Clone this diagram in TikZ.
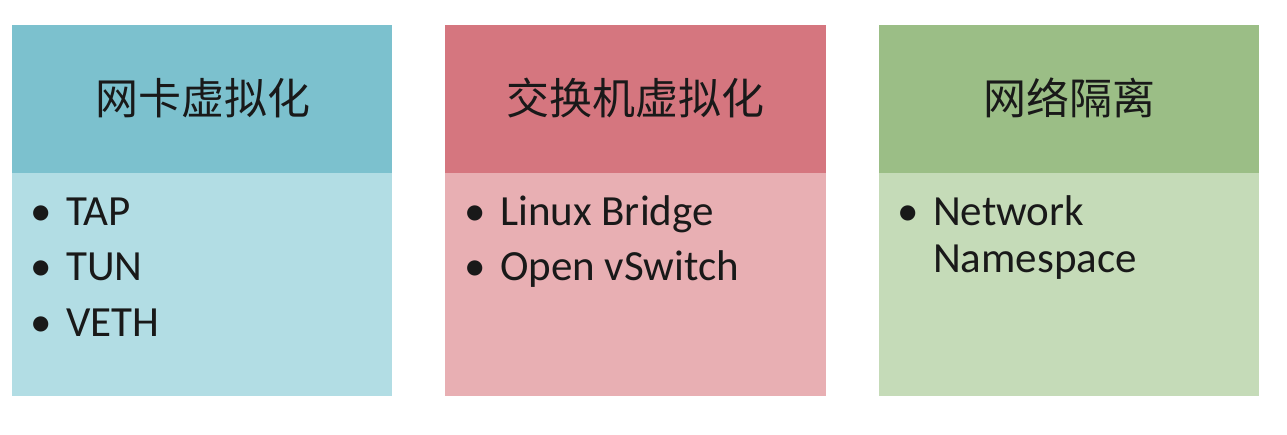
\documentclass[tikz,border=0pt]{standalone}
\usepackage{fontspec}
\setmainfont{Carlito}
\newfontfamily\cjk{Noto Sans CJK SC}
\definecolor{bluehead}{HTML}{7CC1CE}
\definecolor{bluebody}{HTML}{B2DDE4}
\definecolor{pinkhead}{HTML}{D5767F}
\definecolor{pinkbody}{HTML}{E8AFB3}
\definecolor{greenhead}{HTML}{9BBE86}
\definecolor{greenbody}{HTML}{C5DBB8}
\tikzset{
  title/.style={anchor=base, inner sep=0pt, font=\cjk\fontsize{43}{50}\selectfont, text=black!90},
  item/.style={anchor=base west, inner sep=0pt, font=\fontsize{43}{50}\selectfont, text=black!90},
  bul/.style={anchor=base, inner sep=0pt, font=\fontsize{43}{50}\selectfont, text=black!90},
}
\begin{document}
\begin{tikzpicture}[x=1pt,y=-1pt]
\useasboundingbox (0,0) rectangle (1287,435);
% panel 1
\fill[bluebody] (12,173) rectangle (392,396);
\fill[bluehead] (12,25) rectangle (392,173);
\node[title] (t1) at (203,115) {网卡虚拟化};
\node[bul] (b1a) at (41,226) {•};
\node[item] (i1a) at (66,226) {TAP};
\node[bul] (b1b) at (41,281) {•};
\node[item] (i1b) at (66,281) {TUN};
\node[bul] (b1c) at (41,337) {•};
\node[item] (i1c) at (66,337) {VETH};
% panel 2
\fill[pinkbody] (445,173) rectangle (826,396);
\fill[pinkhead] (445,25) rectangle (826,173);
\node[title] (t2) at (635,115) {交换机虚拟化};
\node[bul] (b2a) at (475,226) {•};
\node[item] (i2a) at (500,226) {Linux Bridge};
\node[bul] (b2b) at (475,281) {•};
\node[item] (i2b) at (500,281) {Open vSwitch};
% panel 3
\fill[greenbody] (879,173) rectangle (1259,396);
\fill[greenhead] (879,25) rectangle (1259,173);
\node[title] (t3) at (1069,115) {网络隔离};
\node[bul] (b3a) at (908,226) {•};
\node[item] (i3a) at (933,226) {Network};
\node[item] (i3b) at (933,273) {Namespace};
\end{tikzpicture}
\end{document}
